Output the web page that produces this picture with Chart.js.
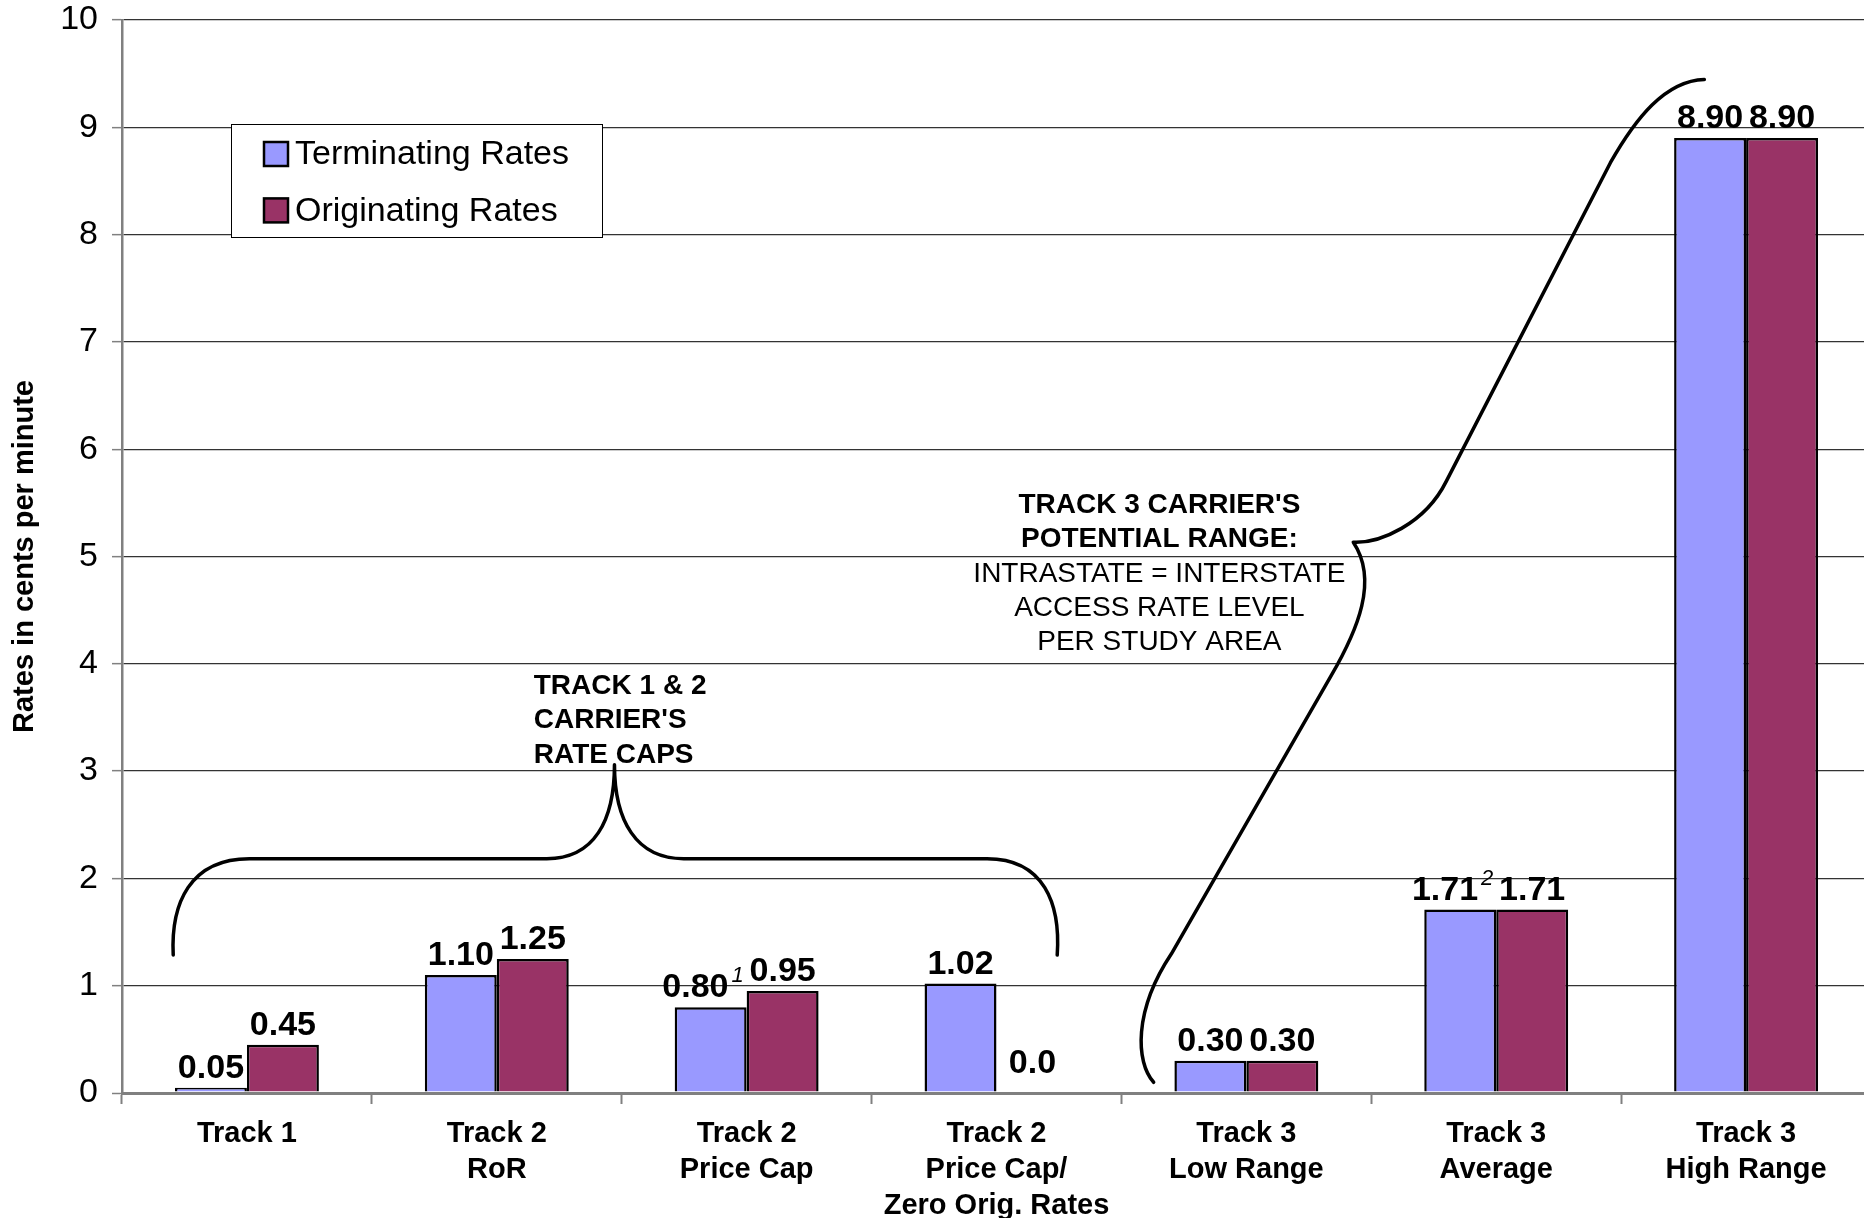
<!DOCTYPE html>
<html>
<head>
<meta charset="utf-8">
<script src="https://cdn.jsdelivr.net/npm/chart.js@4.4.1/dist/chart.umd.min.js"></script>
<style>
  html, body { margin: 0; padding: 0; background: #fff; overflow: hidden; }
  #wrap { width: 1871px; height: 1218px; }
</style>
</head>
<body>
<div id="wrap"><canvas id="chart"></canvas></div>
<script>
const categorie = [
    ['Track 1'],
    ['Track 2', 'RoR'],
    ['Track 2', 'Price Cap'],
    ['Track 2', 'Price Cap/', 'Zero Orig. Rates'],
    ['Track 3', 'Low Range'],
    ['Track 3', 'Average'],
    ['Track 3', 'High Range']
]
const terminating = [0.05, 1.10, 0.80, 1.02, 0.30, 1.71, 8.90]
const originating = [0.45, 1.25, 0.95, 0.0, 0.30, 1.71, 8.90]
const noteTerminating = ['', '', '1', '', '', '2', '']
const noteOriginating = ['', '', '', '', '', '', '']

// testi delle annotazioni
const testoTrack12 = ['TRACK 1 & 2', "CARRIER'S", 'RATE CAPS']
const testoTrack3Bold = ["TRACK 3 CARRIER'S", 'POTENTIAL RANGE:']
const testoTrack3 = ['INTRASTATE = INTERSTATE', 'ACCESS RATE LEVEL', 'PER STUDY AREA']

// graffe, in unita' del grafico (indice categoria, valore)
const graffaSinistra = [
    ['M', -0.295, 1.286],
    ['C', -0.305, 1.763, -0.229, 2.184, 0.010, 2.184],
    ['L', 1.200, 2.184],
    ['C', 1.390, 2.184, 1.471, 2.539, 1.471, 3.060],
    ['C', 1.471, 2.539, 1.557, 2.184, 1.748, 2.184],
    ['L', 2.962, 2.184],
    ['C', 3.190, 2.184, 3.257, 1.763, 3.243, 1.286]
]
const graffaDestra = [
    ['M', 3.629, 0.100],
    ['C', 3.557, 0.288, 3.548, 0.765, 3.700, 1.297],
    ['L', 4.340, 3.891],
    ['C', 4.445, 4.313, 4.530, 4.778, 4.428, 5.133],
    ['C', 4.533, 5.122, 4.714, 5.299, 4.800, 5.700],
    ['L', 5.457, 8.670],
    ['C', 5.557, 9.080, 5.676, 9.435, 5.833, 9.446]
]

const FONT = '"Liberation Sans", Arial, sans-serif'
const fmt = v => v === 0 ? '0.0' : v.toFixed(2)

const etichette = {
    id: 'etichette',
    afterDatasetsDraw(chart) {
        const ctx = chart.ctx
        const note = [noteTerminating, noteOriginating]
        ctx.save()
        ctx.fillStyle = '#000'
        ctx.textBaseline = 'alphabetic'
        ctx.textAlign = 'left'
        chart.data.datasets.forEach((ds, i) => {
            chart.getDatasetMeta(i).data.forEach((bar, j) => {
                const testo = fmt(ds.data[j])
                const nota = note[i][j]
                ctx.font = 'bold 34px ' + FONT
                const w = ctx.measureText(testo).width
                ctx.font = 'italic 22px ' + FONT
                const wn = nota ? ctx.measureText(nota).width + 3 : 0
                const x0 = bar.x - w / 2 - wn
                const yb = bar.y - (ds.data[j] === 0 ? 20 : 10)
                ctx.font = 'bold 34px ' + FONT
                ctx.fillText(testo, x0, yb)
                if (nota) {
                    ctx.font = 'italic 22px ' + FONT
                    ctx.fillText(nota, x0 + w + 3, yb - 15)
                }
            })
        })
        ctx.restore()
    }
}

const annotazioni = {
    id: 'annotazioni',
    afterDatasetsDraw(chart) {
        const ctx = chart.ctx
        const sx = chart.scales.x
        const sy = chart.scales.y
        const px = v => sx.getPixelForValue(v)
        const py = v => sy.getPixelForValue(v)

        const disegnaGraffa = (path) => {
            ctx.beginPath()
            path.forEach(s => {
                if (s[0] === 'M') ctx.moveTo(px(s[1]), py(s[2]))
                else if (s[0] === 'L') ctx.lineTo(px(s[1]), py(s[2]))
                else ctx.bezierCurveTo(px(s[1]), py(s[2]), px(s[3]), py(s[4]), px(s[5]), py(s[6]))
            })
            ctx.stroke()
        }

        ctx.save()
        ctx.strokeStyle = '#000'
        ctx.lineWidth = 3.5
        ctx.lineCap = 'round'
        ctx.lineJoin = 'round'
        disegnaGraffa(graffaSinistra)
        disegnaGraffa(graffaDestra)

        ctx.fillStyle = '#000'
        ctx.textBaseline = 'middle'

        // track 1 & 2
        ctx.textAlign = 'left'
        ctx.font = 'bold 28px ' + FONT
        testoTrack12.forEach((t, k) => {
            ctx.fillText(t, px(1.148), py(3.79 - k * 0.32))
        })

        // track 3
        ctx.textAlign = 'center'
        const righe = testoTrack3Bold.length
        testoTrack3Bold.forEach((t, k) => {
            ctx.font = 'bold 28px ' + FONT
            ctx.fillText(t, px(3.652), py(5.477 - k * 0.32))
        })
        testoTrack3.forEach((t, k) => {
            ctx.font = '28px ' + FONT
            ctx.fillText(t, px(3.652), py(5.477 - (k + righe) * 0.32))
        })
        ctx.restore()
    }
}

const legenda = {
    id: 'legenda',
    afterDraw(chart) {
        const { ctx, chartArea } = chart
        const x = chartArea.left + 109
        const y = chartArea.top + 104
        ctx.save()
        ctx.fillStyle = '#fff'
        ctx.fillRect(x, y, 371, 113)
        ctx.strokeStyle = '#000'
        ctx.lineWidth = 1
        ctx.strokeRect(x + 0.5, y + 0.5, 371, 113)
        ctx.textBaseline = 'middle'
        ctx.textAlign = 'left'
        ctx.font = '34px ' + FONT
        chart.data.datasets.forEach((ds, i) => {
            const cy = y + 30 + i * 56.4
            ctx.fillStyle = ds.backgroundColor
            ctx.fillRect(x + 33, cy - 12, 24, 24)
            ctx.lineWidth = 2.5
            ctx.strokeRect(x + 33, cy - 12, 24, 24)
            ctx.fillStyle = '#000'
            ctx.fillText(ds.label, x + 64, cy + 1)
        })
        ctx.restore()
    }
}

new Chart(document.getElementById('chart'), {
    type: 'bar',
    data: {
        labels: categorie,
        datasets: [
            {
                label: 'Terminating Rates',
                data: terminating,
                backgroundColor: '#9999FF',
                borderColor: '#000',
                borderWidth: 2.5,
                categoryPercentage: 0.576,
                barPercentage: 1
            },
            {
                label: 'Originating Rates',
                data: originating,
                backgroundColor: '#993366',
                borderColor: '#000',
                borderWidth: 2.5,
                categoryPercentage: 0.576,
                barPercentage: 1
            }
        ]
    },
    options: {
        responsive: true,
        maintainAspectRatio: false,
        animation: false,
        layout: { padding: { top: 20, left: 0, right: 0, bottom: 0 } },
        plugins: {
            legend: { display: false },
            tooltip: { enabled: false }
        },
        scales: {
            x: {
                grid: {
                    offset: true,
                    drawOnChartArea: false,
                    drawTicks: true,
                    tickLength: 11,
                    tickColor: '#808080',
                    tickWidth: 2
                },
                border: { color: '#808080', width: 3 },
                ticks: {
                    color: '#000',
                    font: { family: FONT, size: 29, weight: 'bold', lineHeight: 1.24 },
                    padding: 12,
                    maxRotation: 0,
                    autoSkip: false
                },
                afterFit(scale) {
                    scale.height = 125
                    scale.paddingLeft = 0
                    scale.paddingRight = 0
                }
            },
            y: {
                min: 0,
                max: 10,
                ticks: {
                    stepSize: 1,
                    color: '#000',
                    font: { family: FONT, size: 34 },
                    padding: 14
                },
                grid: {
                    color: c => c.tick && c.tick.value === 0 ? '#808080' : '#333333',
                    lineWidth: c => c.tick && c.tick.value === 0 ? 3 : 1.3,
                    tickLength: 10,
                    tickColor: '#808080',
                    tickWidth: 1.5
                },
                border: { color: '#808080', width: 2.5 },
                title: {
                    display: true,
                    text: 'Rates in cents per minute',
                    color: '#000',
                    font: { family: FONT, size: 29, weight: 'bold' },
                    padding: { top: 8, bottom: 0 }
                },
                afterFit(scale) {
                    scale.width = 122
                    scale.paddingTop = 0
                    scale.paddingBottom = 0
                }
            }
        }
    },
    plugins: [etichette, annotazioni, legenda]
})
</script>
</body>
</html>
